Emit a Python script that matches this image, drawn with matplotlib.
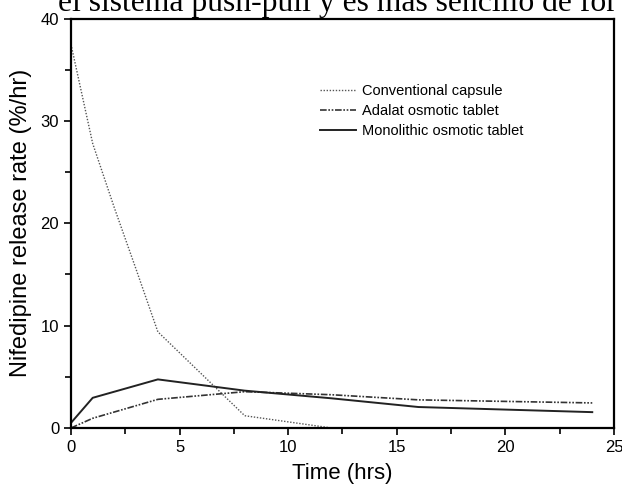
"""Nifedipine release rate vs time: conventional capsule vs osmotic tablets."""

import matplotlib
matplotlib.use("Agg")
import matplotlib.pyplot as plt
from matplotlib.ticker import MultipleLocator

# data
time_conv = [0, 1, 2, 3, 4, 8, 12]
rate_conv = [37.5, 27.8, 21.5, 15.5, 9.4, 1.2, 0.0]

time_adalat = [0, 1, 4, 8, 12, 16, 20, 24]
rate_adalat = [0.0, 0.95, 2.8, 3.55, 3.25, 2.75, 2.6, 2.45]

time_mono = [0, 1, 4, 8, 12, 16, 20, 24]
rate_mono = [0.5, 2.95, 4.75, 3.65, 2.9, 2.05, 1.8, 1.55]

labels = ["Conventional capsule", "Adalat osmotic tablet", "Monolithic osmotic tablet"]

plt.rcParams["font.family"] = ["Liberation Sans", "DejaVu Sans"]

fig = plt.figure(figsize=(6.22, 4.91), dpi=100)
ax = fig.add_axes([0.1141, 0.1283, 0.9871 - 0.1141, 0.962 - 0.1283])

ax.plot(time_conv, rate_conv, linestyle=(0, (1, 1.2)), color="#555555", lw=1.0, label=labels[0])
ax.plot(time_adalat, rate_adalat, linestyle=(0, (4, 1, 1, 1, 1, 1)), color="#333333", lw=1.2, label=labels[1])
ax.plot(time_mono, rate_mono, linestyle="-", color="#222222", lw=1.4, label=labels[2])

ax.set_xlim(0, 25)
ax.set_ylim(0, 40)
ax.xaxis.set_major_locator(MultipleLocator(5))
ax.xaxis.set_minor_locator(MultipleLocator(2.5))
ax.yaxis.set_major_locator(MultipleLocator(10))
ax.yaxis.set_minor_locator(MultipleLocator(5))
ax.tick_params(which="both", direction="out", width=1.2, labelsize=12)
ax.tick_params(which="major", length=5)
ax.tick_params(which="minor", length=4)
for spine in ax.spines.values():
    spine.set_linewidth(1.6)

ax.set_xlabel("Time (hrs)", fontsize=16, labelpad=6)
ax.set_ylabel("Nifedipine release rate (%/hr)", fontsize=17, labelpad=6)

ax.legend(frameon=False, fontsize=10.5, loc="upper left", bbox_to_anchor=(0.5145, 0.829),
          bbox_transform=fig.transFigure, handlelength=2.5, handletextpad=0.35,
          labelspacing=0.42, borderpad=0, borderaxespad=0)

# bit of the surrounding page text cut off at the top
fig.text(0.093, 1 - 11 / 491, "el sistema push-pull y es más sencillo de for",
         family=["Liberation Serif", "DejaVu Serif"], fontsize=22.8, va="baseline", ha="left")

fig.savefig("out.png", dpi=100)
plt.close(fig)
